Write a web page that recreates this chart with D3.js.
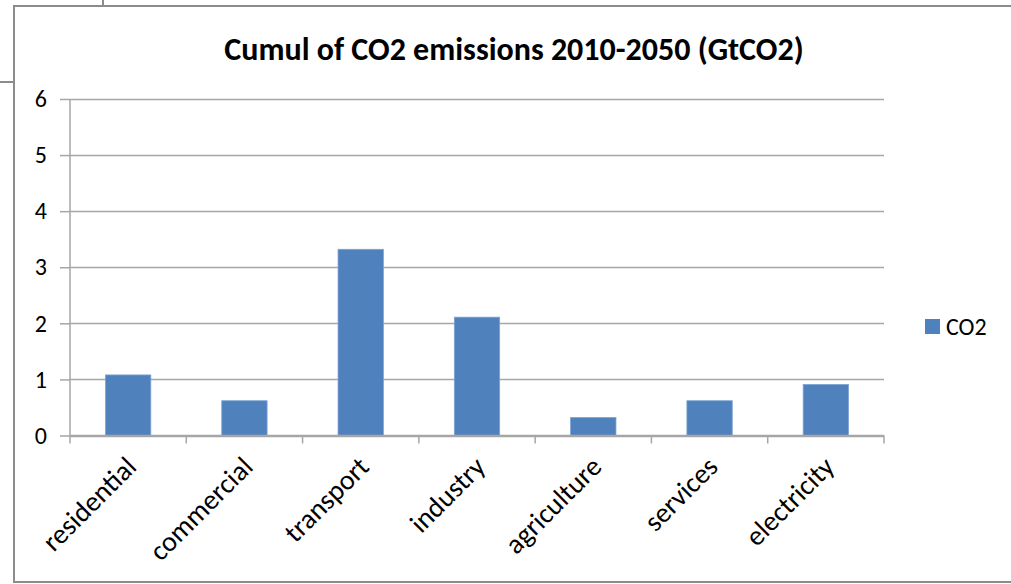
<!DOCTYPE html>
<html>
<head>
<meta charset="utf-8">
<script src="https://cdn.jsdelivr.net/npm/d3@7.9.0/dist/d3.min.js"></script>
<style>
  body { margin: 0; background: #fff; }
  svg { display: block; font-family: Carlito, Calibri, "Open Sans", "DejaVu Sans", sans-serif; }
</style>
</head>
<body>
<svg id="chart" width="1011" height="584"></svg>
<script>
// data
const categories = ["residential", "commercial", "transport", "industry", "agriculture", "services", "electricity"];
const co2 = [1.08, 0.62, 3.32, 2.11, 0.32, 0.62, 0.91];
const yTicks = [0, 1, 2, 3, 4, 5, 6];
const seriesName = "CO2";
const title = "Cumul of CO2 emissions 2010-2050 (GtCO2)";
const fontFamily = 'Carlito, Calibri, "Open Sans", sans-serif';

let svg = d3.select("#chart");
let margin = { top: 99, left: 70, right: 127, bottom: 148.5 };
let width = 1011 - margin.left - margin.right;
let height = 584 - margin.top - margin.bottom;

const data = categories.map((c, i) => ({ cat: c, value: co2[i] }));

// outer chart frame (spreadsheet object border)
svg.append("path")
  .attr("d", "M1011,6 H14 V582 H1011")
  .attr("fill", "none")
  .attr("stroke", "#8c8c8c")
  .attr("stroke-width", 2);
// bits of cell borders behind the chart
svg.append("line").attr("x1", 103).attr("x2", 103).attr("y1", 0).attr("y2", 6)
  .attr("stroke", "#8c8c8c").attr("stroke-width", 2);
svg.append("line").attr("x1", 0).attr("x2", 14).attr("y1", 82).attr("y2", 82)
  .attr("stroke", "#8c8c8c").attr("stroke-width", 2);

let g = svg.append("g").attr("transform", `translate(${margin.left},${margin.top})`);

let xScale = d3.scaleBand().domain(categories).range([0, width]).paddingInner(0.61).paddingOuter(0.305);
let xTickScale = d3.scaleBand().domain(categories).range([0, width]);
let yScale = d3.scaleLinear().domain([0, 6]).range([height, 0]);

// gridlines
g.append("g")
  .selectAll("line")
  .data(yTicks)
  .enter().append("line")
    .attr("x1", 0)
    .attr("x2", width)
    .attr("y1", d => Math.round(yScale(d)) + 0.5)
    .attr("y2", d => Math.round(yScale(d)) + 0.5)
    .attr("stroke", "#a6a6a6")
    .attr("stroke-width", 1.5);

// bars
g.selectAll(".bar")
  .data(data)
  .enter().append("rect")
    .attr("class", "bar")
    .attr("x", d => xScale(d.cat))
    .attr("width", xScale.bandwidth())
    .attr("y", d => yScale(d.value))
    .attr("height", d => height - yScale(d.value))
    .attr("fill", "#4f81bd")
    .attr("stroke", "#7da3d3")
    .attr("stroke-width", 0.8);

// y axis
let yAxisGroup = g.append("g")
  .call(d3.axisLeft(yScale).tickValues(yTicks).tickSize(10).tickPadding(13).tickFormat(d3.format("d")))
  .attr("font-family", fontFamily);
yAxisGroup.select(".domain").attr("stroke", "#a6a6a6").attr("stroke-width", 1.5).attr("d", `M0,${height}V0`);
yAxisGroup.selectAll(".tick line").attr("stroke", "#a6a6a6").attr("stroke-width", 1.5);
yAxisGroup.selectAll(".tick text").attr("font-size", "24px").attr("fill", "#000");

// x axis: ticks at category boundaries
let xAxisGroup = g.append("g").attr("transform", `translate(0,${height})`);
xAxisGroup.append("line")
  .attr("x1", 0).attr("x2", width).attr("y1", 0).attr("y2", 0)
  .attr("stroke", "#a6a6a6").attr("stroke-width", 1.5);
const bounds = categories.map(c => xTickScale(c)).concat([width]);
xAxisGroup.selectAll(".xtick")
  .data(bounds)
  .enter().append("line")
    .attr("class", "xtick")
    .attr("x1", d => d).attr("x2", d => d)
    .attr("y1", 0).attr("y2", 8)
    .attr("stroke", "#a6a6a6").attr("stroke-width", 1.5);
xAxisGroup.selectAll(".xlabel")
  .data(categories)
  .enter().append("text")
    .attr("class", "xlabel")
    .attr("text-anchor", "end")
    .attr("font-size", "28px")
    .attr("fill", "#000")
    .attr("transform", d => `translate(${xTickScale(d) + xTickScale.bandwidth() / 2 + 10},${33}) rotate(-45)`)
    .text(d => d);

// title
svg.append("text")
  .attr("x", 514)
  .attr("y", 60)
  .attr("text-anchor", "middle")
  .attr("font-size", "32px")
  .attr("font-weight", "bold")
  .attr("fill", "#000")
  .text(title);

// legend
let legend = svg.append("g").attr("transform", "translate(925,319)");
legend.append("rect").attr("width", 15).attr("height", 15).attr("fill", "#4f81bd");
legend.append("text").attr("x", 21).attr("y", 16).attr("font-size", "24px").attr("fill", "#000").text(seriesName);
</script>
</body>
</html>
